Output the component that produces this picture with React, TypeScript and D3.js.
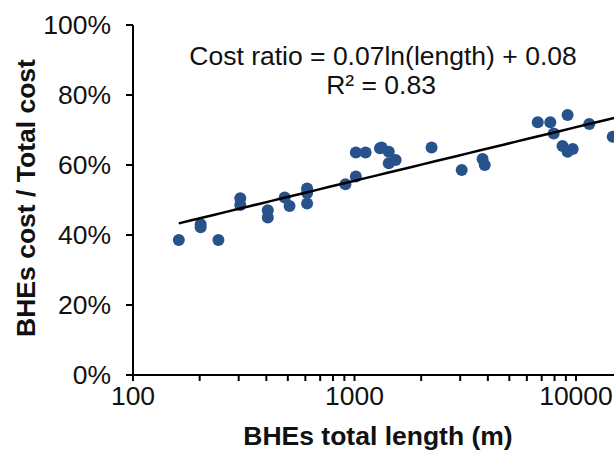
import * as d3 from "d3";
import React from "react";

// BHEs total length (m) and cost ratio
const lengths = [
  161, 202, 202, 243, 305, 305, 406, 406, 484, 509, 611, 611, 611, 910, 1014, 1014,
  1122, 1303, 1325, 1428, 1428, 1534, 2228, 3048, 3785, 3873, 6719, 7656, 7930,
  9163, 8690, 9163, 9664, 11480, 14650,
];
const ratios = [
  0.386, 0.431, 0.422, 0.386, 0.505, 0.486, 0.471, 0.45, 0.507, 0.483, 0.533, 0.52,
  0.49, 0.545, 0.567, 0.636, 0.636, 0.648, 0.65, 0.638, 0.605, 0.614, 0.65, 0.586,
  0.617, 0.6, 0.722, 0.722, 0.69, 0.743, 0.654, 0.638, 0.646, 0.717, 0.681,
];
const yTicks = [0, 0.2, 0.4, 0.6, 0.8, 1.0];
const xMajor = [100, 1000, 10000];
const eqText = "Cost ratio = 0.07ln(length) + 0.08";
const r2Text = "R² = 0.83";

const W = 614;
const H = 455;

export default function App() {
  const x = d3.scaleLog().domain([100, 10000]).range([133, 576]);
  const y = d3.scaleLinear().domain([0, 1]).range([375, 25]);

  // minor ticks 100..90000
  const xTicks: number[] = [];
  for (let dec = 100; dec <= 10000; dec *= 10) {
    for (let k = 1; k <= 9; k++) xTicks.push(dec * k);
  }

  // log fit of the points
  const lx = lengths.map((v) => Math.log(v));
  const mx = d3.mean(lx)!;
  const my = d3.mean(ratios)!;
  let sxy = 0, sxx = 0;
  lx.forEach((v, i) => {
    sxy += (v - mx) * (ratios[i] - my);
    sxx += (v - mx) * (v - mx);
  });
  const slope = sxy / sxx;
  const icpt = my - slope * mx;
  const fitX = d3.range(0, 41).map((i) => 161 * Math.pow(20000 / 161, i / 40));
  const line = d3
    .line<number>()
    .x((d) => x(d))
    .y((d) => y(slope * Math.log(d) + icpt));

  const font = "Arial, 'Liberation Sans', Helvetica, sans-serif";
  const fs = 26.5;

  return (
    <svg
      width={W}
      height={H}
      style={{ position: "absolute", left: 0, top: 0, background: "#fff" }}
      fontFamily={font}
    >
      <defs>
        <clipPath id="plot">
          <rect x={0} y={0} width={W} height={H} />
        </clipPath>
      </defs>

      {/* y axis */}
      <line x1={133} x2={133} y1={y(1)} y2={y(0)} stroke="#000" strokeWidth={2} />
      {yTicks.map((t) => (
        <g key={t}>
          <line x1={126} x2={133} y1={y(t)} y2={y(t)} stroke="#000" strokeWidth={2} />
          <text x={111} y={y(t)} dy="0.35em" textAnchor="end" fontSize={fs} fill="#111">
            {d3.format(".0%")(t)}
          </text>
        </g>
      ))}

      {/* x axis */}
      <line x1={126} x2={W} y1={y(0)} y2={y(0)} stroke="#000" strokeWidth={2} />
      {xTicks.map((t) => (
        <line key={t} x1={x(t)} x2={x(t)} y1={y(0)} y2={y(0) + 6} stroke="#000" strokeWidth={2} />
      ))}
      {xMajor.map((t) => (
        <text key={t} x={x(t)} y={405} textAnchor="middle" fontSize={fs} fill="#111">
          {t}
        </text>
      ))}

      <g clipPath="url(#plot)">
        {lengths.map((v, i) => (
          <circle key={i} cx={x(v)} cy={y(ratios[i])} r={6} fill="#28528b" />
        ))}
        <path d={line(fitX) || ""} fill="none" stroke="#000" strokeWidth={2.5} />
      </g>

      <text x={383} y={65} textAnchor="middle" fontSize={fs} fill="#111">
        {eqText}
      </text>
      <text x={381} y={94} textAnchor="middle" fontSize={fs} fill="#111">
        {r2Text}
      </text>

      <text x={378} y={445} textAnchor="middle" fontSize={fs} fontWeight="bold" fill="#111">
        BHEs total length (m)
      </text>
      <text
        transform="translate(35,198) rotate(-90)"
        textAnchor="middle"
        fontSize={fs}
        fontWeight="bold"
        fill="#111"
      >
        BHEs cost / Total cost
      </text>
    </svg>
  );
}
